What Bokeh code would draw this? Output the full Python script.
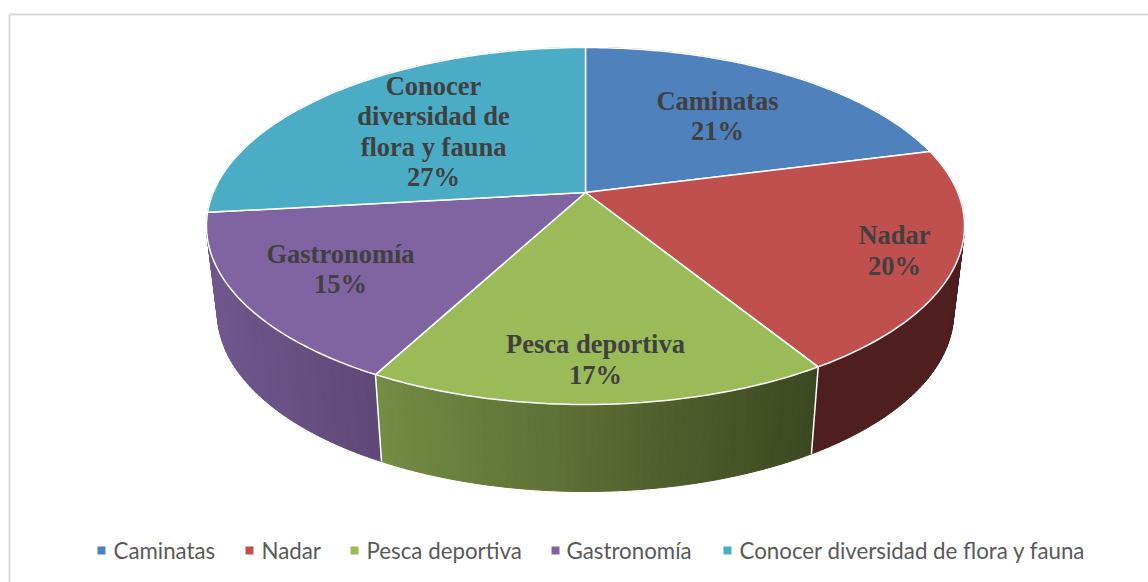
import numpy as np
from bokeh.plotting import figure
from bokeh.models import Range1d
from bokeh.core.properties import value
from bokeh.embed import file_html
from bokeh.resources import INLINE

categories = ["Caminatas", "Nadar", "Pesca deportiva", "Gastronomía", "Conocer diversidad de flora y fauna"]
shares = [21, 20.2, 16.6, 15.4, 26.8]
colors = ["#4F81BD", "#C0504D", "#9BBB59", "#8064A2", "#4BACC6"]
wall_left = ["#3A5F8C", "#4F1E1E", "#748C44", "#70578E", "#38809A"]
wall_right = ["#3A5F8C", "#4F1E1E", "#3C4820", "#5E4876", "#38809A"]
label_lines = [["Caminatas", "21%"], ["Nadar", "20%"], ["Pesca deportiva", "17%"],
               ["Gastronomía", "15%"], ["Conocer", "diversidad de", "flora y fauna", "27%"]]

# layout (image pixels)
CX, CY = 585, 192
A, B, K = 372.3, 172.2, 0.1877
DEPTH, SHRINK = 87, 0.971
label_x = [717, 894, 595, 340, 433]
label_top = [100, 234.5, 343, 253, 85]
label_step = [30, 31, 31, 30, 30.6]
legend_box_x = [97, 245, 350, 551, 723]
legend_text_x = [113, 261, 366, 566, 739]
LEGEND_Y = 550

def top_rim(t):
    d = 1 + K * np.cos(t)
    return CX + A * np.sin(t) / d, CY - B * np.cos(t) / d

def bottom_rim(t):
    x, y = top_rim(t)
    return CX + (x - CX) * SHRINK, y + DEPTH

def mix(c1, c2, f):
    a = [int(c1[i:i + 2], 16) for i in (1, 3, 5)]
    b = [int(c2[i:i + 2], 16) for i in (1, 3, 5)]
    return "#%02x%02x%02x" % tuple(int(round(u + (v - u) * f)) for u, v in zip(a, b))

p = figure(width=1148, height=582, output_backend="svg", toolbar_location=None,
           x_range=Range1d(0, 1148), y_range=Range1d(582, 0),
           min_border=0, outline_line_color=None)
p.axis.visible = False
p.grid.visible = False
p.background_fill_color = "white"

# chart frame
p.line([9, 9], [582, 14], line_color="#D9D9D9", line_width=2)
p.line([9, 1148], [14, 14], line_color="#D9D9D9", line_width=2)

edges = np.radians(np.cumsum([0] + shares) * 3.6)
n = len(shares)

# side walls, back to front
order = sorted(range(n), key=lambda i: -abs(np.pi - (edges[i] + edges[i + 1]) / 2))
for i in order:
    t = np.linspace(edges[i], edges[i + 1], max(8, int((edges[i + 1] - edges[i]) * 60)))
    xt, yt = top_rim(t)
    xb, yb = bottom_rim(t)
    x0, x1 = min(xt.min(), xb.min()), max(xt.max(), xb.max())
    xs, ys, cs = [], [], []
    for j in range(len(t) - 1):
        xs.append([xt[j], xt[j + 1], xb[j + 1], xb[j]])
        ys.append([yt[j], yt[j + 1], yb[j + 1], yb[j]])
        f = ((xt[j] + xt[j + 1]) / 2 - x0) / (x1 - x0)
        cs.append(mix(wall_left[i], wall_right[i], f))
    p.patches(xs, ys, fill_color=cs, line_color=cs, line_width=1)

# white seams on the front wall
for e in edges:
    if np.radians(110) < e < np.radians(250):
        xt, yt = top_rim(e)
        xb, yb = bottom_rim(e)
        p.line([xt, xb], [yt, yb], line_color="white", line_width=1.5)

# top face
for i in range(n):
    t = np.linspace(edges[i], edges[i + 1], 80)
    xt, yt = top_rim(t)
    p.patch(np.r_[CX, xt], np.r_[CY, yt], fill_color=colors[i],
            line_color="white", line_width=1.5, line_join="round")

# data labels
for i, lines in enumerate(label_lines):
    ys = [label_top[i] + k * label_step[i] for k in range(len(lines))]
    p.text([label_x[i]] * len(lines), ys, text=lines, text_font=value("Liberation Serif"),
           text_font_style="bold", text_font_size="26.5px", text_color="#404040",
           text_align="center", text_baseline="middle")

# legend
p.scatter([x + 4 for x in legend_box_x], [LEGEND_Y] * n, marker="square", size=8,
          fill_color=colors, line_color=None)
p.text(legend_text_x, [LEGEND_Y] * n, text=categories, text_font=value("Lato"),
       text_font_size="22.3px", text_color="#595959", text_align="left", text_baseline="middle")

open("out.html", "w").write(file_html(p, INLINE))
